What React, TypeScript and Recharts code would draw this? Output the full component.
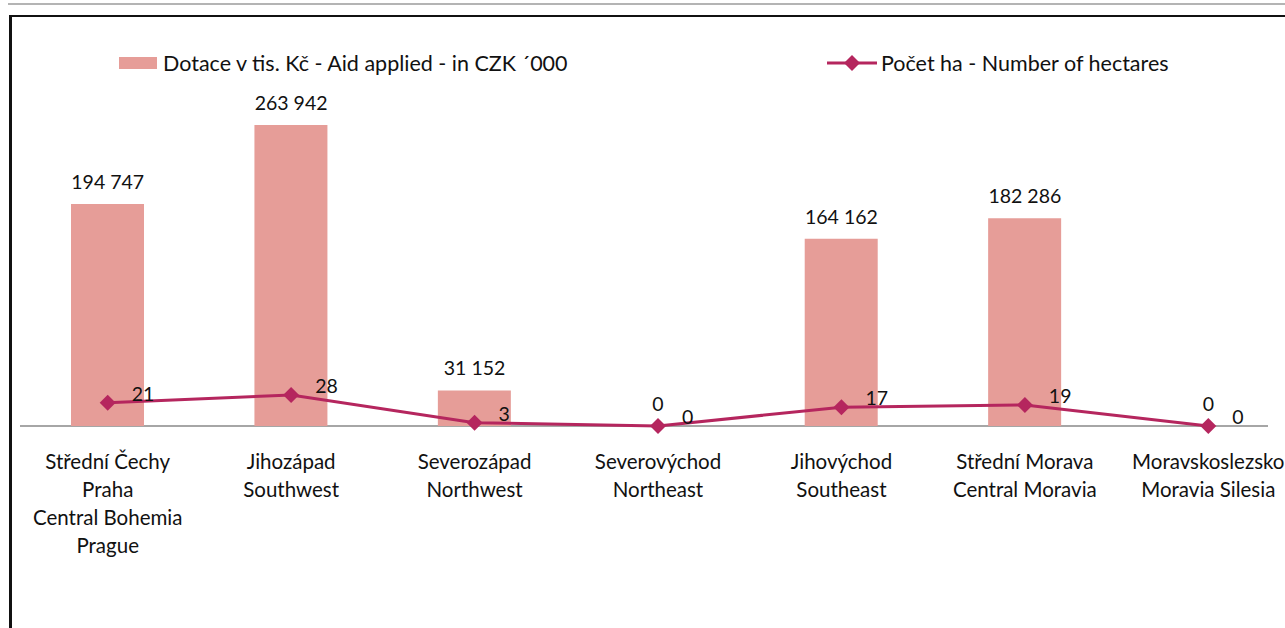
import React from 'react';
import { ComposedChart, Bar, Line, XAxis, YAxis, LabelList, Legend } from 'recharts';

const regions = [
  'Střední Čechy\nPraha\nCentral Bohemia\nPrague',
  'Jihozápad\nSouthwest',
  'Severozápad\nNorthwest',
  'Severovýchod\nNortheast',
  'Jihovýchod\nSoutheast',
  'Střední Morava\nCentral Moravia',
  'Moravskoslezsko\nMoravia Silesia',
];
const aidApplied = [194747, 263942, 31152, 0, 164162, 182286, 0];
const hectares = [21, 28, 3, 0, 17, 19, 0];

const AID_NAME = 'Dotace v tis. Kč - Aid applied - in CZK ´000';
const HA_NAME = 'Počet ha - Number of hectares';

const BAR_COLOR = '#E69D98';
const LINE_COLOR = '#B5265E';
const FONT = 'Lato, "Open Sans", sans-serif';

const data = regions.map((region, i) => ({
  region,
  aid: aidApplied[i],
  ha: hectares[i],
}));

const fmt = (v: number) => String(v).replace(/\B(?=(\d{3})+(?!\d))/g, ' ');

function RegionTick(props: any) {
  const { x, y, payload } = props;
  const lines = String(payload.value).split('\n');
  return (
    <text x={x} y={y + 35} textAnchor="middle" fill="#111" fontSize={20.5} fontFamily={FONT}>
      {lines.map((l, i) => (
        <tspan key={i} x={x} dy={i === 0 ? 0 : 28}>{l}</tspan>
      ))}
    </text>
  );
}

// bar value labels, drawn from an invisible series so zero values keep their label
function BarValue(props: any) {
  const { x, y, value } = props;
  return (
    <text x={x} y={y - 22} dy="0.35em" textAnchor="middle" fill="#111" fontSize={19.5} fontFamily={FONT}>
      {fmt(value)}
    </text>
  );
}

function LineValue(props: any) {
  const { x, y, value } = props;
  return (
    <text x={x + 24} y={y - 9} dy="0.35em" textAnchor="start" fill="#111" fontSize={19.5} fontFamily={FONT}>
      {value}
    </text>
  );
}

function Diamond(props: any) {
  const { cx, cy } = props;
  if (cx == null || cy == null) return null;
  const r = 8;
  return (
    <path d={`M${cx},${cy - r}L${cx + r},${cy}L${cx},${cy + r}L${cx - r},${cy}Z`} fill={LINE_COLOR} />
  );
}

function ChartLegend() {
  return (
    <div style={{ position: 'relative', height: 30, fontFamily: FONT, fontSize: 21.5, color: '#111' }}>
      <div style={{ position: 'absolute', left: 119, top: 6, width: 38, height: 12, background: BAR_COLOR }} />
      <div style={{ position: 'absolute', left: 163, top: 0, lineHeight: '24px', whiteSpace: 'nowrap' }}>{AID_NAME}</div>
      <svg style={{ position: 'absolute', left: 826, top: 0 }} width={52} height={24}>
        <line x1={1} y1={12} x2={51} y2={12} stroke={LINE_COLOR} strokeWidth={3} />
        <path d="M26,4L34,12L26,20L18,12Z" fill={LINE_COLOR} />
      </svg>
      <div style={{ position: 'absolute', left: 881, top: 0, lineHeight: '24px', whiteSpace: 'nowrap' }}>{HA_NAME}</div>
    </div>
  );
}

export default function App() {
  return (
    <div style={{ position: 'absolute', left: 0, top: 0, width: 1285, height: 628, overflow: 'hidden', background: '#fff' }}>
      <div style={{ position: 'absolute', left: 8, top: 3, width: 1277, height: 2, background: '#b4b4b4' }} />
      <div style={{ position: 'absolute', left: 9, top: 15, width: 1276, height: 2, background: '#111' }} />
      <div style={{ position: 'absolute', left: 9, top: 15, width: 3, height: 613, background: '#111' }} />
      <div style={{ position: 'absolute', left: 20, top: 425, width: 1248, height: 2, background: '#a6a6a6' }} />
      <div style={{ position: 'absolute', left: 0, top: 0 }}>
        <ComposedChart
          width={1310}
          height={628}
          data={data}
          margin={{ top: 54, right: 10, left: 16, bottom: 172 }}
        >
          <XAxis dataKey="region" axisLine={false} tickLine={false} tick={<RegionTick />} interval={0} />
          <YAxis yAxisId="aid" hide domain={[0, 300000]} />
          <YAxis yAxisId="ha" hide orientation="right" domain={[0, 309]} />
          <Legend verticalAlign="top" height={30} wrapperStyle={{ top: 51, left: 0, width: 1310 }} content={<ChartLegend />} />
          <Bar yAxisId="aid" dataKey="aid" name={AID_NAME} fill={BAR_COLOR} barSize={73} isAnimationActive={false} />
          <Line
            yAxisId="aid"
            dataKey="aid"
            stroke="none"
            dot={false}
            activeDot={false}
            legendType="none"
            isAnimationActive={false}
          >
            <LabelList dataKey="aid" content={<BarValue />} />
          </Line>
          <Line
            yAxisId="ha"
            dataKey="ha"
            name={HA_NAME}
            type="linear"
            stroke={LINE_COLOR}
            strokeWidth={3}
            dot={<Diamond />}
            activeDot={false}
            isAnimationActive={false}
          >
            <LabelList dataKey="ha" content={<LineValue />} />
          </Line>
        </ComposedChart>
      </div>
    </div>
  );
}
